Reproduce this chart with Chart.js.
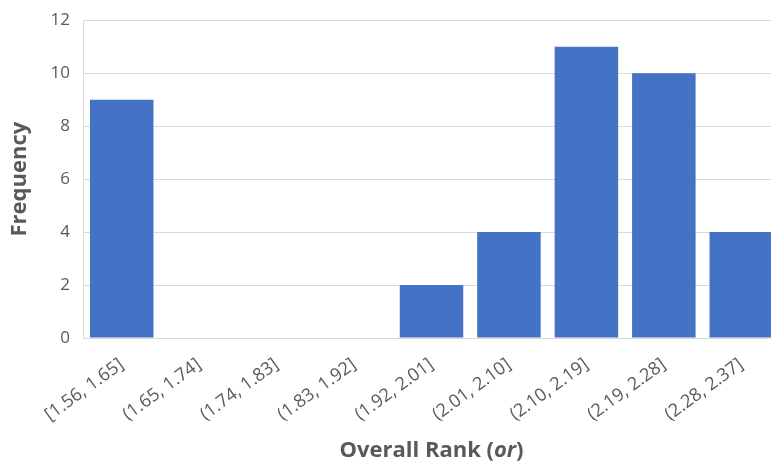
<!DOCTYPE html>
<html>
<head>
<meta charset="utf-8">
<script src="https://cdn.jsdelivr.net/npm/chart.js@4/dist/chart.umd.min.js"></script>
<style>
  html, body { margin: 0; padding: 0; background: #fff; overflow: hidden; }
  #wrap { width: 780px; height: 466px; overflow: hidden; }
  #c { position: relative; top: -3px; }
</style>
</head>
<body>
<div id="wrap"><canvas id="c" width="780" height="469"></canvas></div>
<script>
// Histogram bins of the overall rank and their counts
const binLabels = ['[1.56, 1.65]', '(1.65, 1.74]', '(1.74, 1.83]', '(1.83, 1.92]', '(1.92, 2.01]',
                   '(2.01, 2.10]', '(2.10, 2.19]', '(2.19, 2.28]', '(2.28, 2.37]'];
const frequencies = [9, 0, 0, 0, 2, 4, 11, 10, 4];
const yTicks = [0, 2, 4, 6, 8, 10, 12];

const textColor = '#595959';
const gridColor = '#d9d9d9';

// Axis title with an italic symbol, drawn in pieces under the x axis
const xTitlePlugin = {
  id: 'xTitle',
  afterDraw(chart) {
    const ctx = chart.ctx;
    const area = chart.chartArea;
    const parts = [
      { t: 'Overall Rank (', f: 'bold 22px "Open Sans"' },
      { t: 'or', f: 'italic bold 22px "Open Sans"' },
      { t: ')', f: 'bold 22px "Open Sans"' }
    ];
    ctx.save();
    let total = 0;
    parts.forEach(p => { ctx.font = p.f; p.w = ctx.measureText(p.t).width; total += p.w; });
    let x = (area.left + area.right) / 2 - total / 2;
    const y = area.bottom + 113;
    ctx.fillStyle = textColor;
    ctx.textBaseline = 'middle';
    ctx.textAlign = 'left';
    parts.forEach(p => { ctx.font = p.f; ctx.fillText(p.t, x, y); x += p.w; });
    ctx.restore();
  }
};

new Chart(document.getElementById('c'), {
  type: 'bar',
  data: {
    labels: binLabels,
    datasets: [{
      data: frequencies,
      backgroundColor: '#4472c4',
      borderWidth: 0,
      categoryPercentage: 1.0,
      barPercentage: 0.82
    }]
  },
  options: {
    responsive: false,
    animation: false,
    layout: { padding: { top: 12, left: 0, right: 0, bottom: 0 } },
    plugins: { legend: { display: false }, tooltip: { enabled: false } },
    scales: {
      x: {
        grid: { display: false, drawTicks: false },
        border: { display: true, color: gridColor, width: 1 },
        ticks: {
          color: textColor,
          font: { family: 'Open Sans', size: 18 },
          minRotation: 36,
          maxRotation: 36,
          padding: 16,
          autoSkip: false
        },
        afterFit(scale) { scale.height = 128; }
      },
      y: {
        min: 0,
        max: 12,
        afterBuildTicks(scale) { scale.ticks = yTicks.map(v => ({ value: v })); },
        grid: { color: gridColor, lineWidth: 1, drawTicks: false },
        border: { display: true, color: gridColor, width: 1 },
        ticks: {
          color: textColor,
          font: { family: 'Open Sans', size: 17 },
          padding: 13
        },
        title: {
          display: true,
          text: 'Frequency',
          color: textColor,
          font: { family: 'Open Sans', size: 22, weight: 'bold' },
          padding: { top: 7, bottom: 0 }
        },
        afterFit(scale) { scale.width = 83; }
      }
    }
  },
  plugins: [xTitlePlugin]
});
</script>
</body>
</html>
